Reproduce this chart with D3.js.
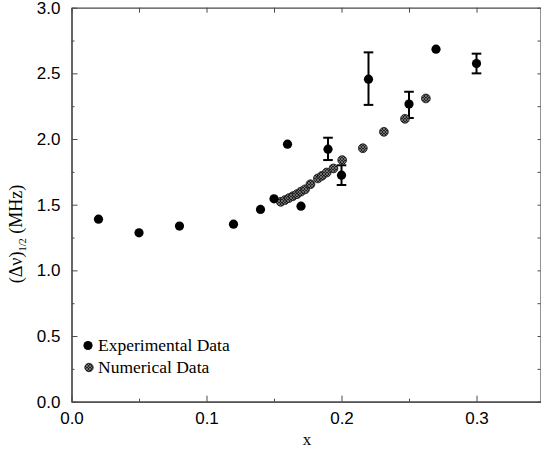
<!DOCTYPE html>
<html>
<head>
<meta charset="utf-8">
<script src="https://cdn.jsdelivr.net/npm/d3@7"></script>
<style>
  body { margin:0; background:#fff; }
  svg { display:block; }
</style>
</head>
<body>
<div class="chart"></div>
<script>
// experimental points (black), with error bars where the paper gives them
const expX  = [0.02, 0.05, 0.08, 0.12, 0.14, 0.15, 0.16, 0.17, 0.19, 0.20, 0.22, 0.25, 0.27, 0.30];
const expY  = [1.39, 1.286, 1.337, 1.352, 1.464, 1.545, 1.961, 1.489, 1.923, 1.725, 2.456, 2.266, 2.684, 2.575];
const expLo = [null, null, null, null, null, null, null, null, 1.84, 1.65, 2.26, 2.16, null, 2.50];
const expHi = [null, null, null, null, null, null, null, null, 2.01, 1.80, 2.66, 2.36, null, 2.65];

// numerical points (grey hatched)
const numX = [0.155, 0.158, 0.161, 0.164, 0.167, 0.170, 0.173, 0.177, 0.1825, 0.1855, 0.189, 0.194, 0.2005, 0.2158, 0.2314, 0.247, 0.2625];
const numY = [1.522, 1.535, 1.55, 1.565, 1.58, 1.60, 1.617, 1.656, 1.70, 1.72, 1.745, 1.776, 1.84, 1.93, 2.055, 2.154, 2.309];

const xTicks = [0.0, 0.1, 0.2, 0.3];
const xMinor = [0.05, 0.15, 0.25];
const yTicks = [0.0, 0.5, 1.0, 1.5, 2.0, 2.5, 3.0];
const yMinor = [0.25, 0.75, 1.25, 1.75, 2.25, 2.75];

const legendLabels = ["Experimental Data", "Numerical Data"];

const W = 541, H = 453;
const svg = d3.select(".chart").append("svg").attr("width", W).attr("height", H);

const x = d3.scaleLinear().domain([0, 0.35]).range([71.5, 544]);
const y = d3.scaleLinear().domain([0, 3]).range([401.7, 7.7]);

// hatch pattern for numerical markers
const defs = svg.append("defs");
const pat = defs.append("pattern")
  .attr("id", "hatch").attr("patternUnits", "userSpaceOnUse")
  .attr("width", 3).attr("height", 3);
pat.append("rect").attr("width", 3).attr("height", 3).attr("fill", "#222");
pat.append("path").attr("d", "M0,0 L3,3 M3,0 L0,3").attr("stroke", "#8a8a8a").attr("stroke-width", 0.7);

const axisColor = "#4a4a4a";
const tickFont = "'Liberation Sans', Arial, sans-serif";
const serif = "'Liberation Serif', 'Times New Roman', serif";

function styleAxis(g) {
  g.select(".domain").attr("stroke", axisColor).attr("stroke-width", 1.2);
  g.selectAll(".tick line").attr("stroke", axisColor).attr("stroke-width", 1);
  g.selectAll(".tick text").attr("fill", "#000").attr("font-family", tickFont).attr("font-size", 17);
}

// bottom
svg.append("g").attr("transform", `translate(0,${y(0)})`)
  .call(d3.axisBottom(x).tickValues(xTicks).tickFormat(d3.format(".1f")).tickSize(-6).tickSizeOuter(0).tickPadding(10))
  .call(styleAxis);
svg.append("g").attr("transform", `translate(0,${y(0)})`)
  .call(d3.axisBottom(x).tickValues(xMinor).tickFormat("").tickSize(-3).tickSizeOuter(0))
  .call(styleAxis);
// top
svg.append("g").attr("transform", `translate(0,${y(3)})`)
  .call(d3.axisTop(x).tickValues(xTicks.concat(xMinor)).tickFormat("").tickSize(-5).tickSizeOuter(0))
  .call(styleAxis);
// left
svg.append("g").attr("transform", `translate(${x(0)},0)`)
  .call(d3.axisLeft(y).tickValues(yTicks).tickFormat(d3.format(".1f")).tickSize(-6).tickSizeOuter(0).tickPadding(11))
  .call(styleAxis);
svg.append("g").attr("transform", `translate(${x(0)},0)`)
  .call(d3.axisLeft(y).tickValues(yMinor).tickFormat("").tickSize(-3).tickSizeOuter(0))
  .call(styleAxis);
// right (cut by the picture edge)
svg.append("g").attr("transform", `translate(${W - 0.5},0)`)
  .call(d3.axisRight(y).tickValues(yTicks.concat(yMinor)).tickFormat("").tickSize(-3).tickSizeOuter(0))
  .call(styleAxis);

// error bars
const errs = expX.map((v, i) => ({x: v, lo: expLo[i], hi: expHi[i]})).filter(d => d.lo !== null);
const eb = svg.append("g").attr("stroke", "#000").attr("stroke-width", 2);
eb.selectAll(".stem").data(errs).join("line")
  .attr("x1", d => x(d.x)).attr("x2", d => x(d.x))
  .attr("y1", d => y(d.lo)).attr("y2", d => y(d.hi));
eb.selectAll(".capl").data(errs).join("line")
  .attr("x1", d => x(d.x) - 4.8).attr("x2", d => x(d.x) + 4.8)
  .attr("y1", d => y(d.lo)).attr("y2", d => y(d.lo));
eb.selectAll(".caph").data(errs).join("line")
  .attr("x1", d => x(d.x) - 4.8).attr("x2", d => x(d.x) + 4.8)
  .attr("y1", d => y(d.hi)).attr("y2", d => y(d.hi));

// numerical markers
svg.append("g").selectAll("circle").data(numX.map((v, i) => [v, numY[i]])).join("circle")
  .attr("cx", d => x(d[0])).attr("cy", d => y(d[1])).attr("r", 4.4)
  .attr("fill", "url(#hatch)").attr("stroke", "#111").attr("stroke-width", 0.8);

// experimental markers
svg.append("g").selectAll("circle").data(expX.map((v, i) => [v, expY[i]])).join("circle")
  .attr("cx", d => x(d[0])).attr("cy", d => y(d[1])).attr("r", 4.6)
  .attr("fill", "#000");

// legend
const leg = svg.append("g");
leg.append("circle").attr("cx", 88).attr("cy", 345.5).attr("r", 4.6).attr("fill", "#000");
leg.append("circle").attr("cx", 89).attr("cy", 367.5).attr("r", 4.2)
  .attr("fill", "url(#hatch)").attr("stroke", "#111").attr("stroke-width", 0.8);
leg.selectAll("text").data(legendLabels).join("text")
  .attr("x", 98).attr("y", (d, i) => 351 + i * 22)
  .attr("font-family", serif).attr("font-size", 17.5).attr("fill", "#000")
  .text(d => d);

// axis titles
svg.append("text").attr("x", 307).attr("y", 445)
  .attr("text-anchor", "middle").attr("font-family", serif).attr("font-size", 17).text("x");

const yl = svg.append("text")
  .attr("transform", "translate(22,234) rotate(-90)")
  .attr("text-anchor", "middle").attr("font-family", serif).attr("font-size", 18);
yl.append("tspan").text("(Δν)");
yl.append("tspan").attr("font-size", 10.5).attr("dy", 4).text("1/2");
yl.append("tspan").attr("dy", -4).text(" (MHz)");
</script>
</body>
</html>
